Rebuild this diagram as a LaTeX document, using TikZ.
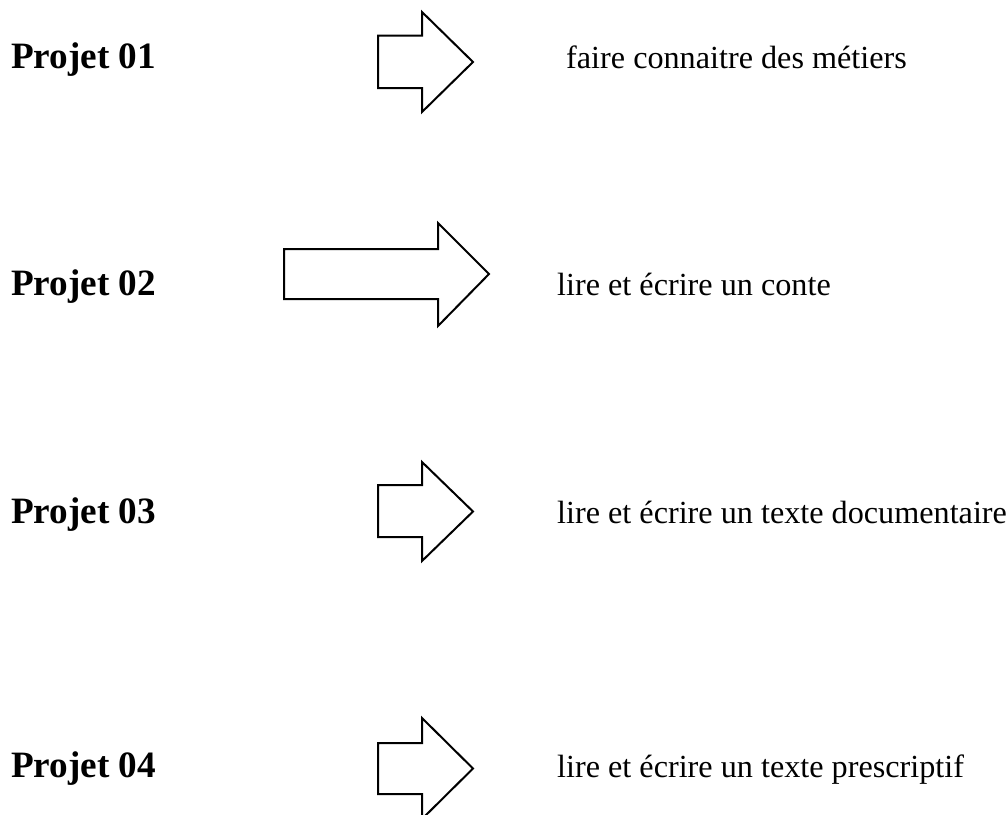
\documentclass[tikz,border=0pt]{standalone}
\usepackage{fontspec}
\setmainfont{Liberation Serif}
\tikzset{
  projet/.style={anchor=base west, inner sep=0pt, font=\fontsize{37.2}{40}\selectfont\bfseries},
  but/.style={anchor=base west, inner sep=0pt, font=\fontsize{32.2}{36}\selectfont},
  fleche/.style={draw, line width=2pt, line join=miter}
}
\begin{document}
\begin{tikzpicture}[x=1pt, y=-1pt]
  \useasboundingbox (0, 0) rectangle (1008, 814);
  \clip (0, 0) rectangle (1008, 814);

  % projet 01
  \node[projet] (p1) at (11, 68) {Projet 01};
  \draw[fleche] (378, 35.5) -- (422, 35.5) -- (422, 12) -- (473, 62)
    -- (422, 112) -- (422, 88) -- (378, 88) -- cycle;
  \node[but] (b1) at (566, 68) {faire connaitre des métiers};

  % projet 02
  \node[projet] (p2) at (11, 295) {Projet 02};
  \draw[fleche] (284, 249) -- (438, 249) -- (438, 223) -- (489, 274)
    -- (438, 326) -- (438, 299) -- (284, 299) -- cycle;
  \node[but] (b2) at (557, 295) {lire et écrire un conte};

  % projet 03
  \node[projet] (p3) at (11, 523) {Projet 03};
  \draw[fleche] (378, 485) -- (422, 485) -- (422, 462) -- (473, 511.5)
    -- (422, 561) -- (422, 537) -- (378, 537) -- cycle;
  \node[but] (b3) at (557, 523) {lire et écrire un texte documentaire};

  % projet 04
  \node[projet] (p4) at (11, 777) {Projet 04};
  \draw[fleche] (378, 743) -- (422, 743) -- (422, 718) -- (473, 768.5)
    -- (422, 819) -- (422, 794) -- (378, 794) -- cycle;
  \node[but] (b4) at (557, 777) {lire et écrire un texte prescriptif};
\end{tikzpicture}
\end{document}
